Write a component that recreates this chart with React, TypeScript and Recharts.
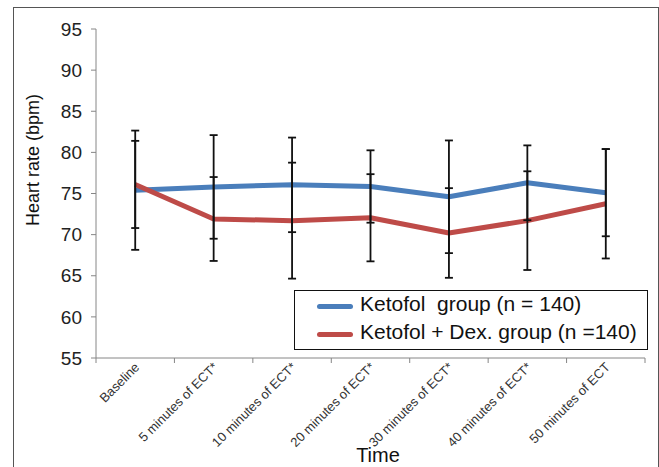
import { ErrorBar, Legend, Line, LineChart, XAxis, YAxis } from "recharts";

const categories = [
  "Baseline",
  "5 minutes of ECT*",
  "10 minutes of ECT*",
  "20 minutes of ECT*",
  "30 minutes of ECT*",
  "40 minutes of ECT*",
  "50 minutes of ECT",
];

const ketofolHr = [75.4, 75.8, 76.05, 75.85, 74.6, 76.3, 75.1];
const ketofolSd = [7.25, 6.3, 5.75, 4.4, 6.85, 4.55, 5.3];
const dexHr = [76.1, 71.9, 71.7, 72.05, 70.2, 71.7, 73.75];
const dexSd = [5.3, 5.1, 7.05, 5.3, 5.45, 6.0, 6.65];

const yTicks = [55, 60, 65, 70, 75, 80, 85, 90, 95];
const xTicks = [-0.5, 0.5, 1.5, 2.5, 3.5, 4.5, 5.5, 6.5];

const seriesNames = ["Ketofol  group (n = 140)", "Ketofol + Dex. group (n =140)"];
const seriesColors = ["#4A7EBB", "#BE4B48"];

const rows = categories.map((name, i) => ({
  idx: i,
  name,
  ketofol: ketofolHr[i],
  ketofolErr: ketofolSd[i],
  dex: dexHr[i],
  dexErr: dexSd[i],
}));

const FONT = "'Liberation Sans', Arial, sans-serif";
const AXIS_GREY = "#868686";
const PLOT_LEFT = 96;
const PLOT_RIGHT = 645;
const STEP = (PLOT_RIGHT - PLOT_LEFT) / categories.length;

function CategoryTick(props: any) {
  const { x, y, payload } = props;
  const i = Math.round(payload.value + 0.5);
  if (i < 0 || i >= categories.length) return null;
  const cx = x + STEP / 2 + 5;
  const cy = y + 3;
  return (
    <text
      x={cx}
      y={cy}
      textAnchor="end"
      transform={`rotate(-45, ${cx}, ${cy})`}
      fontSize={13}
      fill="#333"
      fontFamily={FONT}
    >
      {categories[i]}
    </text>
  );
}

function LegendBox(props: any) {
  const items = (props.payload || []).filter((p: any) => seriesNames.includes(p.value));
  return (
    <div
      style={{
        boxSizing: "border-box",
        width: 354,
        height: 60,
        border: "1.5px solid #111",
        background: "#fff",
        paddingTop: 0,
        fontFamily: FONT,
      }}
    >
      {items.map((item: any, k: number) => (
        <div key={item.value} style={{ display: "flex", alignItems: "center", height: k === 0 ? 26 : 30 }}>
          <div
            style={{
              marginLeft: 22,
              width: 36,
              height: 5,
              borderRadius: 3,
              background: item.color,
              marginTop: 5,
            }}
          />
          <span style={{ marginLeft: 7, fontSize: 21, color: "#111", whiteSpace: "pre" }}>{item.value}</span>
        </div>
      ))}
    </div>
  );
}

export default function App() {
  return (
    <div
      style={{
        position: "absolute",
        left: 0,
        top: 0,
        width: 659,
        height: 467,
        overflow: "hidden",
        background: "#fff",
      }}
    >
      <div
        style={{
          position: "absolute",
          left: 13,
          top: 7,
          width: 646,
          height: 520,
          boxSizing: "border-box",
          border: "1px solid #555",
        }}
      />
      <div style={{ position: "absolute", left: 0, top: 0 }}>
        <LineChart width={659} height={467} data={rows} margin={{ top: 29, right: 14, bottom: 79, left: 36 }}>
          <XAxis
            dataKey="idx"
            type="number"
            domain={[-0.5, 6.5]}
            ticks={xTicks}
            interval={0}
            height={30}
            stroke={AXIS_GREY}
            tickSize={5}
            tick={<CategoryTick />}
            label={{
              content: () => (
                <text x={378} y={462} textAnchor="middle" fontSize={20} fill="#111" fontFamily={FONT}>
                  Time
                </text>
              ),
            }}
          />
          <YAxis
            type="number"
            domain={[55, 95]}
            ticks={yTicks}
            interval={0}
            width={60}
            stroke={AXIS_GREY}
            tickSize={5}
            tickMargin={9}
            tick={{ fontSize: 19, fill: "#222", fontFamily: FONT }}
            label={{
              content: () => (
                <text
                  x={33}
                  y={160}
                  textAnchor="middle"
                  transform="rotate(-90, 33, 160)"
                  dominantBaseline="central"
                  fontSize={18}
                  fill="#111"
                  fontFamily={FONT}
                >
                  Heart rate (bpm)
                </text>
              ),
            }}
          />
          <Legend
            layout="vertical"
            align="center"
            verticalAlign="middle"
            wrapperStyle={{ left: 294, top: 290, width: 354, height: 60 }}
            content={<LegendBox />}
          />
          <Line
            name={seriesNames[0]}
            dataKey="ketofol"
            stroke={seriesColors[0]}
            strokeWidth={5}
            strokeLinejoin="round"
            dot={false}
            activeDot={false}
            isAnimationActive={false}
          />
          <Line
            name={seriesNames[1]}
            dataKey="dex"
            stroke={seriesColors[1]}
            strokeWidth={5}
            strokeLinejoin="round"
            dot={false}
            activeDot={false}
            isAnimationActive={false}
          />
          <Line
            name="ketofol-sd"
            dataKey="ketofol"
            stroke="none"
            legendType="none"
            dot={false}
            activeDot={false}
            isAnimationActive={false}
          >
            <ErrorBar dataKey="ketofolErr" width={4} stroke="#111" strokeWidth={1.8} isAnimationActive={false} />
          </Line>
          <Line
            name="dex-sd"
            dataKey="dex"
            stroke="none"
            legendType="none"
            dot={false}
            activeDot={false}
            isAnimationActive={false}
          >
            <ErrorBar dataKey="dexErr" width={4} stroke="#111" strokeWidth={1.8} isAnimationActive={false} />
          </Line>
        </LineChart>
      </div>
    </div>
  );
}
